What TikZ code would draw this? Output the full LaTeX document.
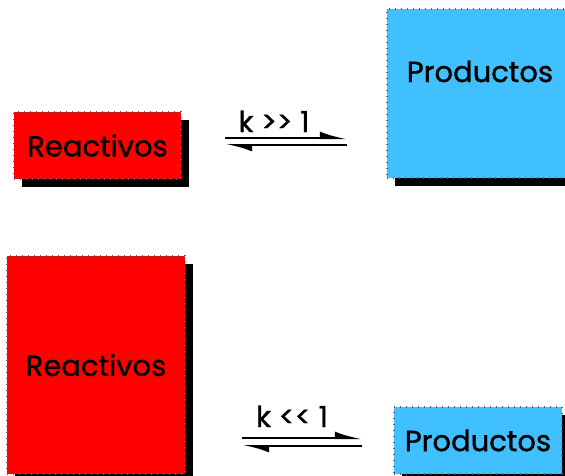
\documentclass[tikz,border=0pt]{standalone}
\usepackage{fontspec}
\setmainfont{Poppins}[FakeBold=1.2]
\usetikzlibrary{shadows,arrows.meta}
\definecolor{reagent}{RGB}{255,0,0}
\definecolor{product}{RGB}{64,192,255}
\definecolor{tickgray}{RGB}{95,95,95}
\begin{document}
\begin{tikzpicture}[x=1pt,y=-1pt,
  panel/.style={rectangle, anchor=north west, inner sep=0pt, outer sep=0pt,
    draw=tickgray, line width=2.2pt, dash pattern=on 1pt off 5pt,
    font=\fontsize{29}{34}\selectfont,
    drop shadow={shadow xshift=8pt, shadow yshift=-8pt, opacity=1, fill=black}},
  chem/.style={inner sep=0pt, font=\fontsize{29}{34}\selectfont},
  harp/.style={line width=2pt, -{Latex[left,length=22pt,width=13pt]}}]
  \useasboundingbox (0,0) rectangle (565,475);
  \clip (0,0) rectangle (565,475);

  % K >> 1 : equilibrium lies on the products side
  \node[panel, fill=reagent, minimum width=167pt, minimum height=67pt] (r1) at (14,112) {Reactivos};
  \node[panel, fill=product, minimum width=190pt, minimum height=169pt] (p1) at (387,9) {};
  \node[chem, anchor=base] (p1t) at (480,82) {Productos};

  \coordinate (f1w) at (225,138);
  \coordinate (f1e) at (347,138);
  \coordinate (b1w) at (225,145);
  \coordinate (b1e) at (347,145);
  \draw[harp] (f1w) -- (f1e);
  \draw[harp] (b1e) -- (b1w);
  \node[chem, anchor=base] (k1) at (274,132) {k >{}> 1};

  % K << 1 : equilibrium lies on the reactants side
  \node[panel, fill=reagent, minimum width=178pt, minimum height=218pt] (r2) at (7,256) {Reactivos};
  \node[panel, fill=product, minimum width=168pt, minimum height=67pt] (p2) at (394,407) {Productos};

  \coordinate (f2w) at (242,438);
  \coordinate (f2e) at (362,438);
  \coordinate (b2w) at (242,446);
  \coordinate (b2e) at (362,446);
  \draw[harp] (f2w) -- (f2e);
  \draw[harp] (b2e) -- (b2w);
  \node[chem, anchor=base] (k2) at (292,427) {k <{}< 1};
\end{tikzpicture}
\end{document}
